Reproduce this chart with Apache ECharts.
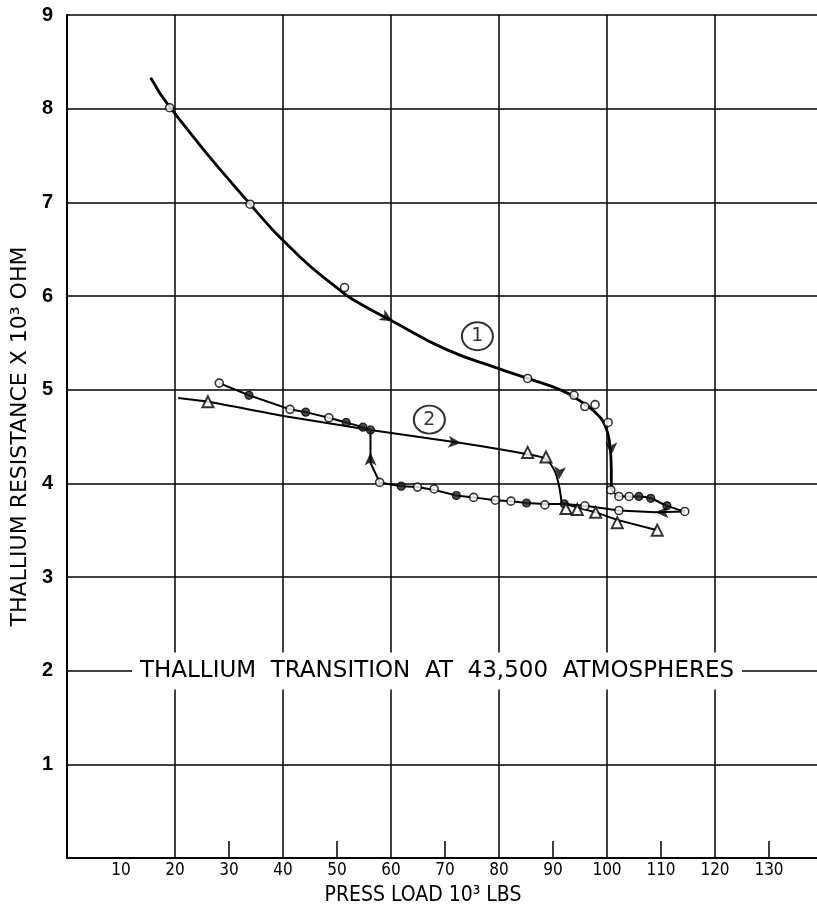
<!DOCTYPE html>
<html>
<head>
<meta charset="utf-8">
<script src="https://cdn.jsdelivr.net/npm/echarts@6/dist/echarts.min.js"></script>
<style>
  html, body { margin: 0; padding: 0; background: #fff; }
  #chart { width: 817px; height: 909px; }
</style>
</head>
<body>
<div id="chart"></div>
<script>
  // values: [press load (10^3 lbs), resistance (10^3 ohm)]
  var run1Up = [[15.5, 8.33], [19.0, 8.02], [33.9, 6.98], [43.1, 6.42], [50.6, 6.06],
    [53.0, 5.96], [60.3, 5.73], [70.2, 5.43], [80.2, 5.22], [85.3, 5.12], [91.7, 4.99],
    [95.0, 4.88], [97.6, 4.77], [99.6, 4.62], [100.5, 4.42], [100.8, 4.15], [100.8, 3.93]];
  var run1Tail = [[100.8, 3.93], [102.2, 3.86], [104.1, 3.86], [105.9, 3.86], [108.1, 3.84],
    [111.1, 3.76], [114.4, 3.70]];
  var run1Down = [[114.4, 3.70], [109.0, 3.69], [102.2, 3.71], [95.9, 3.76], [92.1, 3.78],
    [88.5, 3.78], [85.1, 3.79], [82.2, 3.81], [79.3, 3.82], [75.3, 3.85], [72.1, 3.87],
    [68.0, 3.93], [64.9, 3.96], [61.9, 3.97], [57.9, 4.01], [56.2, 4.22], [56.2, 4.57],
    [54.8, 4.60], [51.7, 4.65], [48.5, 4.70], [44.2, 4.76], [41.3, 4.79], [33.7, 4.94],
    [28.2, 5.07]];
  var run2Up = [[20.6, 4.91], [26.1, 4.87], [40.1, 4.72], [56.2, 4.57], [73.0, 4.43],
    [85.3, 4.31], [88.7, 4.26], [90.4, 4.12], [91.2, 3.95], [91.6, 3.79]];
  var run2Tail = [[91.6, 3.79], [97.9, 3.69], [101.9, 3.61], [109.3, 3.50]];

  var openCircles = [[19.0, 8.01], [33.9, 6.98], [51.4, 6.09], [85.3, 5.12], [93.9, 4.94],
    [95.9, 4.82], [97.8, 4.84], [100.2, 4.65], [100.7, 3.93], [102.2, 3.86], [104.1, 3.86],
    [114.4, 3.70], [102.2, 3.71], [95.9, 3.76], [88.5, 3.77], [82.2, 3.81], [79.3, 3.82],
    [75.3, 3.85], [68.0, 3.94], [64.9, 3.96], [57.9, 4.01], [48.5, 4.70], [41.3, 4.79],
    [28.2, 5.07]];
  var filledCircles = [[105.9, 3.86], [108.1, 3.84], [111.1, 3.76], [92.1, 3.78], [85.1, 3.79],
    [72.1, 3.87], [61.9, 3.97], [56.2, 4.57], [54.8, 4.60], [51.7, 4.65], [44.2, 4.76],
    [33.7, 4.94]];
  var triangles = [[26.1, 4.87], [85.3, 4.33], [88.7, 4.28], [92.4, 3.73], [94.5, 3.72],
    [97.9, 3.69], [101.9, 3.58], [109.3, 3.50]];

  // arrowheads: [x, y, direction in degrees]
  var arrows = [[60.3, 5.73, -120], [100.8, 4.30, 180], [73.0, 4.43, -96],
    [91.1, 4.04, 175], [109.0, 3.69, 90], [56.2, 4.33, 0]];
  var runLabels = [[76.0, 5.57, '1'], [67.1, 4.68, '2']];

  var xLabelValues = [10, 20, 30, 40, 50, 60, 70, 80, 90, 100, 110, 120, 130];
  var xMinorTicks = [30, 50, 70, 90, 110, 130];

  var chart = echarts.init(document.getElementById('chart'));

  function curve(data, width, smooth) {
    return {
      type: 'line', data: data, smooth: smooth, showSymbol: false, z: 2,
      lineStyle: { color: '#000', width: width }
    };
  }

  var option = {
    animation: false,
    backgroundColor: '#fff',
    textStyle: { fontFamily: 'DejaVu Sans' },
    grid: { left: 67, top: 15, width: 756, bottom: 51, outerBoundsMode: 'none' },
    xAxis: [
      {
        type: 'value', min: 0, max: 140, interval: 20, position: 'bottom',
        axisLine: { lineStyle: { color: '#000', width: 2 } },
        axisTick: { show: false },
        axisLabel: { show: false },
        splitLine: { show: true, lineStyle: { color: '#000', width: 1.5 } }
      },
      {
        type: 'value', min: 0, max: 140, interval: 10, position: 'bottom',
        axisLine: { show: false },
        axisTick: { show: true, customValues: xMinorTicks, inside: true, length: 17,
          lineStyle: { color: '#000', width: 1.5 } },
        axisLabel: { customValues: xLabelValues, color: '#000', fontSize: 17, margin: 4,
          fontFamily: 'DejaVu Sans Condensed' },
        splitLine: { show: false },
        name: 'PRESS LOAD 10³ LBS',
        nameLocation: 'middle',
        nameGap: 27,
        nameTextStyle: { color: '#000', fontSize: 21, fontFamily: 'DejaVu Sans Condensed',
          padding: [0, 44, 0, 0] }
      }
    ],
    yAxis: {
      type: 'value', min: 0, max: 9, interval: 1,
      axisLine: { show: true, lineStyle: { color: '#000', width: 2 } },
      axisTick: { show: false },
      axisLabel: {
        color: '#000', fontSize: 20, fontWeight: 'bold', margin: 14,
        fontFamily: 'Liberation Sans',
        formatter: function (v) { return v === 0 ? '' : v; }
      },
      splitLine: { show: true, lineStyle: { color: '#000', width: 1.5 } },
      name: 'THALLIUM RESISTANCE X 10³ OHM',
      nameLocation: 'middle',
      nameGap: 34,
      nameTextStyle: { color: '#000', fontSize: 22, fontFamily: 'DejaVu Sans' }
    },
    graphic: [{
      type: 'text', x: 437, y: 671, z: 50,
      style: {
        text: 'THALLIUM  TRANSITION  AT  43,500  ATMOSPHERES',
        textAlign: 'center', textVerticalAlign: 'middle',
        font: '23px "DejaVu Sans"', fill: '#000',
        backgroundColor: '#fff', padding: [7, 8]
      }
    }],
    series: [
      curve(run1Up, 2.8, 0.5),
      curve(run1Tail, 2, 0.2),
      curve(run1Down, 2, false),
      curve(run2Up, 2, 0.25),
      curve(run2Tail, 2, false),
      {
        type: 'scatter', data: openCircles, symbol: 'circle', symbolSize: 8, z: 3,
        itemStyle: { color: '#fff', borderColor: '#000', borderWidth: 1.6 }
      },
      {
        type: 'scatter', data: filledCircles, symbol: 'circle', symbolSize: 8, z: 3,
        itemStyle: { color: '#222', borderColor: '#000', borderWidth: 1.2 }
      },
      {
        type: 'scatter', data: triangles, symbol: 'triangle', symbolSize: 11, z: 3,
        itemStyle: { color: '#fff', borderColor: '#000', borderWidth: 2 }
      },
      {
        type: 'scatter', data: arrows, symbol: 'arrow', symbolSize: [9, 13], z: 4,
        symbolRotate: function (v) { return v[2]; },
        itemStyle: { color: '#000' }
      },
      {
        type: 'scatter', data: runLabels, symbol: 'emptyCircle', symbolSize: [31, 28], z: 4,
        itemStyle: { color: '#000', borderWidth: 2 },
        label: {
          show: true, position: 'inside', color: '#000', fontSize: 19,
          formatter: function (p) { return p.value[2]; }
        }
      }
    ]
  };

  option && chart.setOption(option);
</script>
</body>
</html>
